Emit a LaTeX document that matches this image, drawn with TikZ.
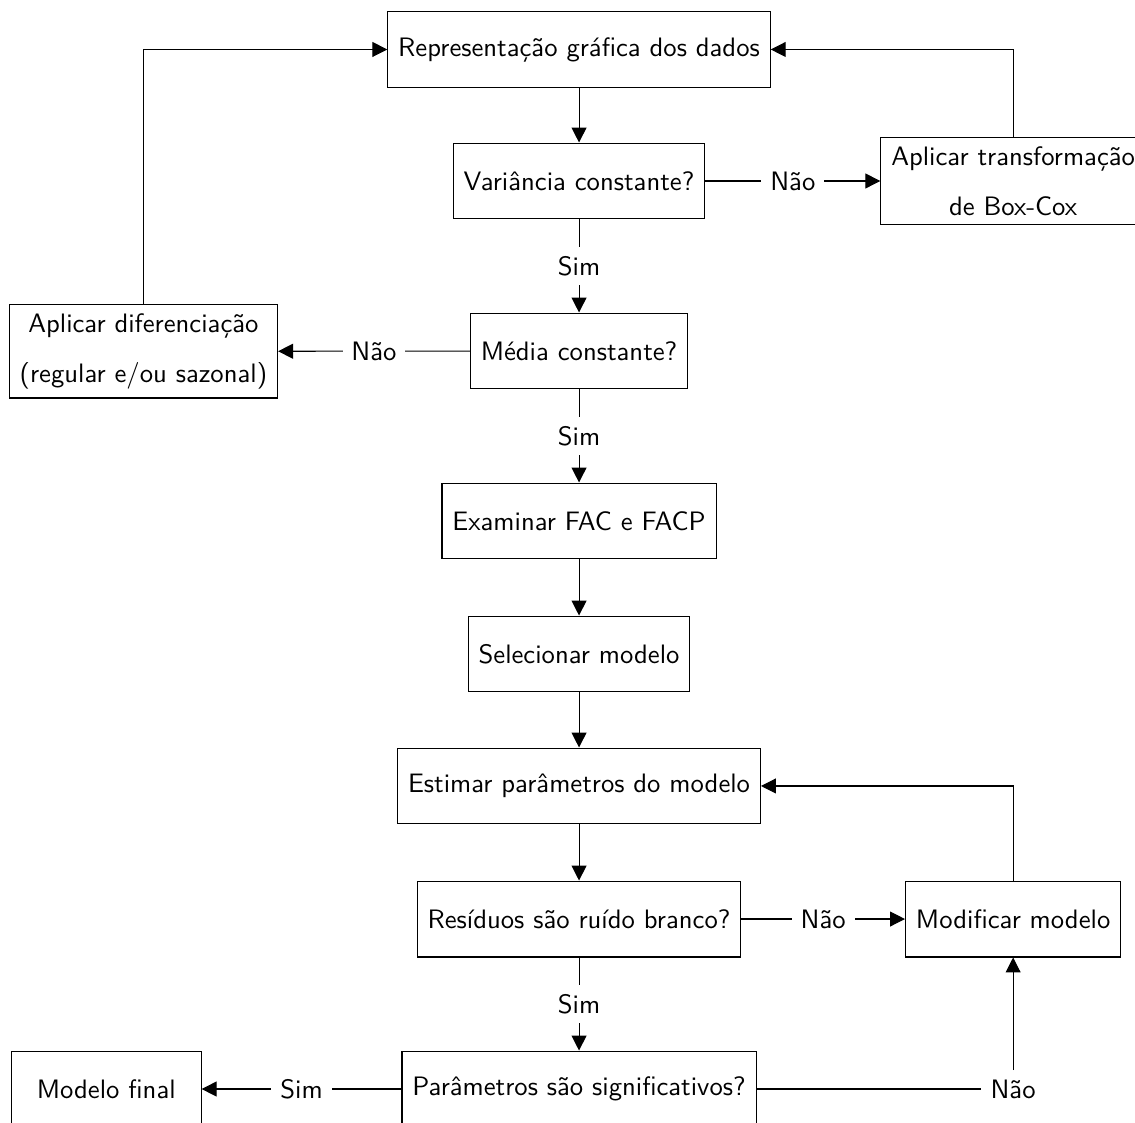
\documentclass[tikz,border=0pt]{standalone}
\usepackage{tikz}
\usetikzlibrary{arrows.meta,positioning}

\begin{document}
\begin{tikzpicture}[font=\sffamily,
  bloco/.style={draw, minimum width=2.5cm, minimum height=1cm, align=center, inner xsep=3.9pt},
  rotulo/.style={fill=white},
  seta/.style={-{Triangle[length=5.6pt,width=5.6pt]}}]
\useasboundingbox (0,0) rectangle (14.956,-14.785);

% coluna central
\node[bloco] (graf) at (7.63,-0.652) {Representação gráfica dos dados};
\node[bloco] (var) at (7.63,-2.385) {Variância constante?};
\node[bloco] (media) at (7.63,-4.625) {Média constante?};
\node[bloco] (fac) at (7.63,-6.865) {Examinar FAC e FACP};
\node[bloco] (sel) at (7.63,-8.618) {Selecionar modelo};
\node[bloco] (est) at (7.63,-10.357) {Estimar parâmetros do modelo};
\node[bloco] (res) at (7.63,-12.110) {Resíduos são ruído branco?};
\node[bloco] (par) at (7.63,-14.35) {Parâmetros são significativos?};

% laterais
\node[bloco] (boxcox) at (13.35,-2.385) {Aplicar transformação\\[6.75pt]de Box-Cox};
\node[bloco] (dif) at (1.89,-4.63) {Aplicar diferenciação\\[6.75pt](regular e/ou sazonal)};
\node[bloco] (modif) at (13.35,-12.110) {Modificar modelo};
\node[bloco] (final) at (1.40,-14.35) {Modelo final};
\node[rotulo] (nao) at (13.35,-14.35) {Não};

% ligacoes
\draw[seta] (graf) -- (var);
\draw[seta] (var) -- node[rotulo] {Sim} (media);
\draw[seta] (var) -- node[rotulo] {Não} (boxcox);
\draw[seta] (boxcox) |- (graf);
\draw[seta] (media) -- node[rotulo] {Não} (dif);
\draw[seta] (dif) |- (graf);
\draw[seta] (media) -- node[rotulo] {Sim} (fac);
\draw[seta] (fac) -- (sel);
\draw[seta] (sel) -- (est);
\draw[seta] (est) -- (res);
\draw[seta] (res) -- node[rotulo] {Não} (modif);
\draw[seta] (modif) |- (est);
\draw[seta] (res) -- node[rotulo] {Sim} (par);
\draw[seta] (par) -- node[rotulo] {Sim} (final);
\draw (par) -- (nao);
\draw[seta] (nao) -- (modif);
\end{tikzpicture}
\end{document}
